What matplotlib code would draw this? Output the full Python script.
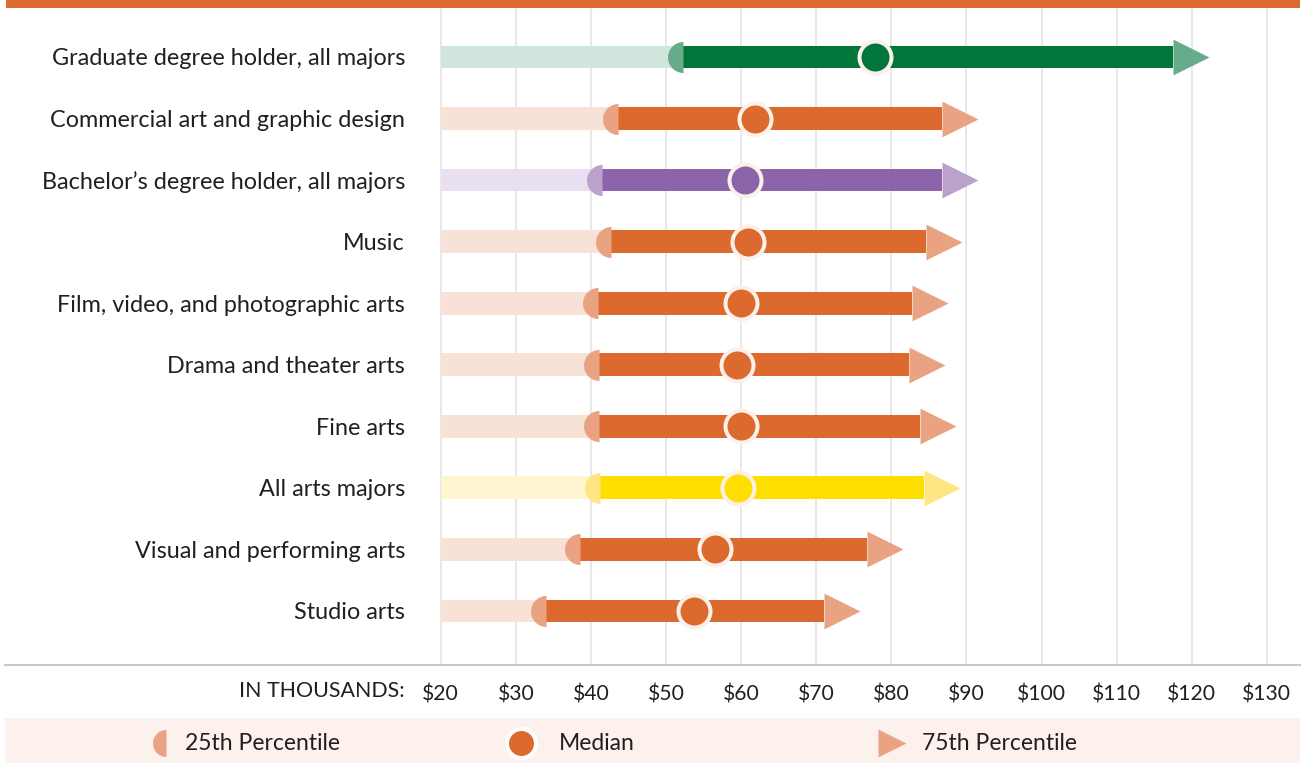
import matplotlib
matplotlib.use('Agg')
import matplotlib.pyplot as plt
from matplotlib.path import Path
from matplotlib.patches import Rectangle
import numpy as np

# ---------------- data ----------------
categories = [
    "Graduate degree holder, all majors",
    "Commercial art and graphic design",
    "Bachelor\u2019s degree holder, all majors",
    "Music",
    "Film, video, and photographic arts",
    "Drama and theater arts",
    "Fine arts",
    "All arts majors",
    "Visual and performing arts",
    "Studio arts",
]
p25 = [52.3, 43.6, 41.5, 42.7, 41.0, 41.1, 41.1, 41.2, 38.5, 34.0]
median = [77.8, 61.9, 60.5, 60.9, 60.0, 59.5, 60.0, 59.6, 56.5, 53.7]
p75 = [117.5, 86.8, 86.8, 84.6, 82.8, 82.4, 83.8, 84.4, 76.7, 71.0]
axis_start = 20
ticks = [20, 30, 40, 50, 60, 70, 80, 90, 100, 110, 120, 130]
tick_labels = ["$20", "$30", "$40", "$50", "$60", "$70", "$80", "$90",
               "$100", "$110", "$120", "$130"]
legend_labels = ["25th Percentile", "Median", "75th Percentile"]

# ---------------- styles ----------------
orange = dict(dark='#DC6A2F', light='#F8E2D8', mark='#EAA382')
green = dict(dark='#00763A', light='#D0E5DB', mark='#67AC8A')
purple = dict(dark='#8C64AA', light='#E8E0F0', mark='#BBA2CC')
yellow = dict(dark='#FFDF00', light='#FFF6CF', mark='#FFE682')
row_palette = {0: green, 2: purple, 7: yellow}
ring = '#FCF1EA'
text_c = '#231F20'

plt.rcParams['font.family'] = ['Lato', 'DejaVu Sans']

W, H, DPI = 1309, 763, 100
PT = 72.0 / DPI  # points per pixel

# marker shapes
t = np.linspace(np.pi / 2, 3 * np.pi / 2, 60)
half_verts = np.column_stack([np.cos(t), np.sin(t)])
half_verts = np.vstack([half_verts, [[0, 1]]])
half_marker = Path(half_verts, closed=True)
tri_marker = Path([(0, -0.496), (1, 0), (0, 0.496), (0, -0.496)], closed=True)

fig = plt.figure(figsize=(W / DPI, H / DPI), dpi=DPI)
fig.patch.set_facecolor('white')

# main axes: pixel x 5..1300, y 8..665
ax = fig.add_axes([5 / W, (H - 665) / H, 1295 / W, (665 - 8) / H])
px_per_unit = 7.51
x_left = axis_start - (440.7 - 5) / px_per_unit
x_right = axis_start + (1300 - 440.7) / px_per_unit
ax.set_xlim(x_left, x_right)
row_px = 61.55
ax.set_ylim((665 - 57) / row_px, (8 - 57) / row_px)

ax.set_facecolor('white')
for s in ['top', 'right', 'left']:
    ax.spines[s].set_visible(False)
ax.spines['bottom'].set_color('#C9C9C9')
ax.spines['bottom'].set_linewidth(1.5)

for x in ticks:
    ax.axvline(x, color='#E2E2E2', lw=1.1, zorder=0)

ax.set_xticks(ticks)
ax.set_xticklabels(tick_labels)
ax.tick_params(axis='x', length=0, pad=14, labelsize=15.2, labelcolor=text_c)
ax.set_yticks([])

bar_h = 0.37
for i, cat in enumerate(categories):
    pal = row_palette.get(i, orange)
    ax.barh(i, p25[i] - axis_start, left=axis_start, height=bar_h,
            color=pal['light'], zorder=1, linewidth=0)
    ax.barh(i, p75[i] - p25[i], left=p25[i], height=bar_h,
            color=pal['dark'], zorder=2, linewidth=0)
    ax.plot([p25[i]], [i], marker=half_marker, ms=31 * PT, color=pal['mark'],
            mew=0, linestyle='none', zorder=3)
    ax.plot([p75[i]], [i], marker=tri_marker, ms=72 * PT, color=pal['mark'],
            mew=0, linestyle='none', zorder=3)
    ax.plot([median[i]], [i], marker='o', ms=32 * PT, color=pal['dark'],
            mec=ring, mew=4 * PT, linestyle='none', zorder=4)
    ax.text(axis_start - (440.7 - 405) / px_per_unit, i + 0.03, cat,
            ha='right', va='center', fontsize=16.8, color=text_c)

fig.text(405 / W, 1 - 691 / H, "IN THOUSANDS:", ha='right', va='center',
         fontsize=15.4, color=text_c)

# top band
fig.add_artist(Rectangle((6 / W, (H - 8) / H), 1294 / W, 8 / H,
                         transform=fig.transFigure, color='#DD6A30', lw=0))

# legend band
lax = fig.add_axes([5 / W, 0, 1295 / W, 45 / H])
lax.set_xlim(5, 1300)
lax.set_ylim(763, 718)
lax.set_facecolor('#FCF1EC')
lax.set_xticks([])
lax.set_yticks([])
for s in lax.spines.values():
    s.set_visible(False)
ly = 743
lax.plot([166], [ly], marker=half_marker, ms=27 * PT, color=orange['mark'],
         mew=0, linestyle='none')
lax.plot([521], [ly], marker='o', ms=29 * PT, color=orange['dark'],
         mec='white', mew=4 * PT, linestyle='none')
lax.plot([878], [ly], marker=tri_marker, ms=56 * PT, color=orange['mark'],
         mew=0, linestyle='none')
for x, lab in zip([185, 559, 922], legend_labels):
    lax.text(x, ly + 1, lab, ha='left', va='center', fontsize=16.5,
             color=text_c)

fig.savefig('out.png', dpi=DPI)
